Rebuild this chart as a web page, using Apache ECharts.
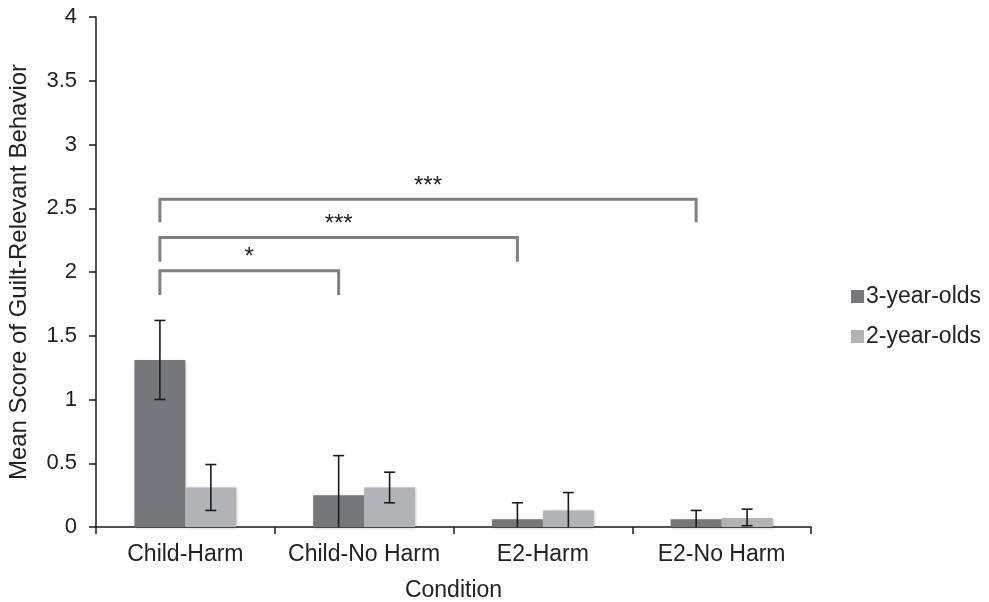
<!DOCTYPE html>
<html><head><meta charset="utf-8">
<script src="https://cdn.jsdelivr.net/npm/echarts@6/dist/echarts.min.js"></script>
<style>html,body{margin:0;padding:0;background:#fff}#c{width:989px;height:602px}</style>
</head><body><div id="c"></div>
<script>
const categories = ['Child-Harm', 'Child-No Harm', 'E2-Harm', 'E2-No Harm'];
const seriesNames = ['3-year-olds', '2-year-olds'];
const means3 = [1.31, 0.25, 0.06, 0.06];
const errLow3 = [1.00, 0, 0, 0];
const errHigh3 = [1.62, 0.56, 0.19, 0.13];
const means2 = [0.31, 0.31, 0.13, 0.07];
const errLow2 = [0.13, 0.19, 0, 0.01];
const errHigh2 = [0.49, 0.43, 0.27, 0.14];
// brackets: from category index, to category index, top y, leg bottom y, label
const bracketFrom = [0, 0, 0];
const bracketTo = [3, 2, 1];
const bracketTop = [2.57, 2.27, 2.01];
const bracketBottom = [2.39, 2.08, 1.82];
const bracketLabels = ['***', '***', '*'];
const yTicks = [0, 0.5, 1, 1.5, 2, 2.5, 3, 3.5, 4];

const BAR_PCT = 0.285;
const FONT = '"Liberation Sans", Arial, sans-serif';
const TXT = '#222';
const chart = echarts.init(document.getElementById('c'));

function errRender(side) {
  return function (params, api) {
    const ci = api.value(0);
    const bw = api.size([1, 0])[0] * BAR_PCT;
    const c = api.coord([ci, 0]);
    const x = c[0] + side * bw / 2;
    const lo = api.value(1), hi = api.value(2);
    const pLo = api.coord([ci, lo])[1];
    const pHi = api.coord([ci, hi])[1];
    const cap = 5.5;
    const st = { stroke: '#1a1a1a', lineWidth: 1.6 };
    const ch = [
      { type: 'line', shape: { x1: x, y1: pLo, x2: x, y2: pHi }, style: st },
      { type: 'line', shape: { x1: x - cap, y1: pHi, x2: x + cap, y2: pHi }, style: st }
    ];
    if (lo > 0) ch.push({ type: 'line', shape: { x1: x - cap, y1: pLo, x2: x + cap, y2: pLo }, style: st });
    return { type: 'group', children: ch };
  };
}

const errData3 = categories.map((c, i) => [i, errLow3[i], errHigh3[i]]);
const errData2 = categories.map((c, i) => [i, errLow2[i], errHigh2[i]]);
const bracketData = bracketFrom.map((f, i) => [f, bracketTo[i], bracketTop[i], bracketBottom[i], i]);

chart.setOption({
  animation: false,
  backgroundColor: '#fff',
  textStyle: { fontFamily: FONT },
  grid: { left: 96, right: 178, top: 17, bottom: 75, containLabel: false, outerBoundsMode: 'none' },
  legend: {
    orient: 'vertical', left: 846, top: 280,
    itemWidth: 13, itemHeight: 13, itemGap: 17,
    icon: 'rect',
    data: seriesNames,
    textStyle: { fontSize: 23, color: TXT, fontFamily: FONT, padding: [0, 0, 0, -3] }
  },
  xAxis: {
    type: 'category', data: categories,
    name: 'Condition', nameLocation: 'middle', nameGap: 52,
    nameTextStyle: { fontSize: 23, color: TXT, fontFamily: FONT },
    axisLine: { lineStyle: { color: '#1a1a1a', width: 1.5 } },
    axisTick: { show: true, length: 7, lineStyle: { color: '#1a1a1a', width: 1.5 } },
    axisLabel: { fontSize: 23, color: TXT, margin: 16, fontFamily: FONT, interval: 0 }
  },
  yAxis: {
    type: 'value', min: 0, max: 4, interval: 0.5,
    name: 'Mean Score of Guilt-Relevant Behavior', nameLocation: 'middle', nameGap: 65,
    nameTextStyle: { fontSize: 24, color: TXT, fontFamily: FONT },
    axisLine: { show: true, lineStyle: { color: '#1a1a1a', width: 1.5 } },
    axisTick: { show: true, length: 7, lineStyle: { color: '#1a1a1a', width: 1.5 } },
    splitLine: { show: false },
    axisLabel: {
      fontSize: 22, color: TXT, margin: 19, fontFamily: FONT,
      formatter: v => yTicks.includes(v) ? String(v) : ''
    }
  },
  series: [
    {
      name: seriesNames[0], type: 'bar', data: means3, barWidth: (BAR_PCT * 100) + '%', barGap: '0%',
      itemStyle: { color: '#76777b', shadowColor: 'rgba(0,0,0,0.25)', shadowBlur: 3, shadowOffsetX: 1, shadowOffsetY: 1 }
    },
    {
      name: seriesNames[1], type: 'bar', data: means2, barWidth: (BAR_PCT * 100) + '%', barGap: '0%',
      itemStyle: { color: '#b2b3b6', shadowColor: 'rgba(0,0,0,0.25)', shadowBlur: 3, shadowOffsetX: 1, shadowOffsetY: 1 }
    },
    {
      type: 'custom', name: 'err3', data: errData3, renderItem: errRender(-1),
      encode: { x: 0, y: [1, 2] }, z: 5, silent: true
    },
    {
      type: 'custom', name: 'err2', data: errData2, renderItem: errRender(1),
      encode: { x: 0, y: [1, 2] }, z: 5, silent: true
    },
    {
      type: 'custom', name: 'brackets', data: bracketData, z: 6, silent: true,
      encode: { x: [0, 1], y: [2, 3] },
      renderItem: function (params, api) {
        const f = api.value(0), t = api.value(1);
        const bw = api.size([1, 0])[0] * BAR_PCT;
        const x0 = api.coord([f, 0])[0] - bw / 2;
        const x1 = api.coord([t, 0])[0] - bw / 2;
        const yT = api.coord([f, api.value(2)])[1];
        const yB = api.coord([f, api.value(3)])[1];
        const idx = api.value(4);
        return {
          type: 'group', children: [
            { type: 'polyline', shape: { points: [[x0, yB], [x0, yT], [x1, yT], [x1, yB]] },
              style: { stroke: '#808080', lineWidth: 3, fill: null } },
            { type: 'text', x: (x0 + x1) / 2, y: yT - 13,
              style: { text: bracketLabels[idx], fill: TXT, font: '24px ' + FONT, align: 'center', verticalAlign: 'middle' } }
          ]
        };
      }
    }
  ]
});
</script></body></html>
